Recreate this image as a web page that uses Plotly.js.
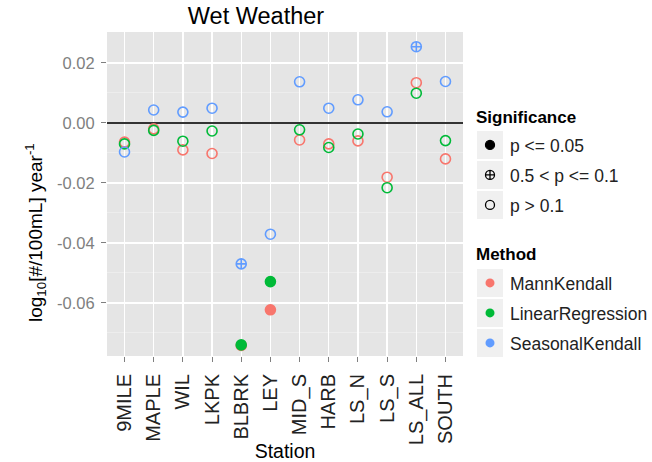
<!DOCTYPE html>
<html>
<head>
<meta charset="utf-8">
<script src="https://cdn.plot.ly/plotly-3.0.1.min.js"></script>
<style>html,body{margin:0;padding:0;background:#fff;}#chart{width:652px;height:462px;}</style>
</head>
<body>
<div id="chart"></div>
<script>
// ---- data ----
var stations = ["9MILE","MAPLE","WIL","LKPK","BLBRK","LEY","MID_S","HARB","LS_N","LS_S","LS_ALL","SOUTH"];
var mannKendall      = [-0.0064, -0.0020, -0.0090, -0.0102, -0.0742, -0.0623, -0.0057, -0.0070, -0.0060, -0.0181,  0.0134, -0.0120];
var linearRegression = [-0.0070, -0.0025, -0.0061, -0.0027, -0.0740, -0.0529, -0.0023, -0.0082, -0.0037, -0.0216,  0.0099, -0.0059];
var seasonalKendall  = [-0.0097,  0.0043,  0.0036,  0.0049, -0.0470, -0.0371,  0.0137,  0.0049,  0.0077,  0.0037,  0.0254,  0.0138];
var S1 = "p <= 0.05", S2 = "0.5 < p <= 0.1", S3 = "p > 0.1";
var sigMannKendall      = [S3,S3,S3,S3,S1,S1,S3,S3,S3,S3,S3,S3];
var sigLinearRegression = [S3,S3,S3,S3,S1,S1,S3,S3,S3,S3,S3,S3];
var sigSeasonalKendall  = [S3,S3,S3,S3,S2,S3,S3,S3,S3,S3,S2,S3];
var significanceLevels = [S1, S2, S3];
var methods = ["MannKendall","LinearRegression","SeasonalKendall"];
var yTickVals = [0.02, 0.00, -0.02, -0.04, -0.06];
var yTickText = ["0.02", "0.00", "-0.02", "-0.04", "-0.06"];
var yMinorVals = [0.03, 0.01, -0.01, -0.03, -0.05, -0.07];

// ---- styles ----
var methodColors = {MannKendall: "#F8766D", LinearRegression: "#00BA38", SeasonalKendall: "#619CFF"};
var sigSymbols = {};
sigSymbols[S1] = "circle";
sigSymbols[S2] = "circle-cross-open";
sigSymbols[S3] = "circle-open";

var series = [
  {name: methods[0], y: mannKendall, sig: sigMannKendall},
  {name: methods[1], y: linearRegression, sig: sigLinearRegression},
  {name: methods[2], y: seasonalKendall, sig: sigSeasonalKendall}
];

var traces = [];
series.forEach(function (s) {
  traces.push({
    type: "scatter", mode: "markers", x: stations, y: s.y, name: s.name,
    showlegend: false, hoverinfo: "x+y+name",
    marker: {size: 10, color: methodColors[s.name], symbol: s.sig.map(function (v) { return sigSymbols[v]; }),
             line: {width: 1.6, color: methodColors[s.name]}}
  });
});
// legend entries: significance
significanceLevels.forEach(function (lv, i) {
  traces.push({
    type: "scatter", mode: "markers", x: [null], y: [null], name: lv,
    legend: "legend", legendgroup: "sig" + i, showlegend: true,
    marker: {size: 9, color: "#000", symbol: sigSymbols[lv], line: {width: 1.3, color: "#000"}}
  });
});
// legend entries: method
methods.forEach(function (m, i) {
  traces.push({
    type: "scatter", mode: "markers", x: [null], y: [null], name: m,
    legend: "legend2", legendgroup: "m" + i, showlegend: true,
    marker: {size: 9, color: methodColors[m], symbol: "circle", line: {width: 0}}
  });
});

// geometry helpers (plot area in pixels: x 107..463, y 32..356)
function px2x(px) { return (px - 107) / 356; }
function px2y(py) { return (356 - py) / 324; }

// gray key backgrounds behind legend symbols
var keyCenters = [145, 175, 205, 283, 313, 343];
var shapes = keyCenters.map(function (c) {
  return {type: "rect", xref: "paper", yref: "paper", layer: "below",
          x0: px2x(477), x1: px2x(503), y0: px2y(c - 14), y1: px2y(c + 14),
          fillcolor: "#F0F0F0", line: {width: 0}};
});

var FONT = "Liberation Sans, Arial, sans-serif";
var layout = {
  width: 652, height: 462,
  margin: {l: 107, r: 189, t: 32, b: 106, pad: 0, autoexpand: false},
  paper_bgcolor: "#fff", plot_bgcolor: "#E5E5E5",
  font: {family: FONT, color: "#000"},
  title: {text: "Wet Weather", font: {size: 23.5, color: "#000", family: FONT},
          x: px2x(256), xref: "paper", xanchor: "center", y: 1 - 15.5 / 462, yref: "container", yanchor: "middle"},
  xaxis: {
    type: "category", categoryorder: "array", categoryarray: stations,
    range: [-0.6, stations.length - 0.4],
    showgrid: true, gridcolor: "#FFFFFF", gridwidth: 1.3,
    zeroline: false, showline: false,
    ticks: "outside", ticklen: 5, tickwidth: 1, tickcolor: "#7F7F7F",
    ticklabelstandoff: 4,
    tickangle: -90, tickfont: {size: 20, color: "#222", family: FONT},
    title: {text: "Station", font: {size: 19.5, color: "#000", family: FONT}, standoff: 0},
    automargin: false, fixedrange: true
  },
  yaxis: {
    range: [-0.0777, 0.0303],
    tickmode: "array", tickvals: yTickVals, ticktext: yTickText,
    showgrid: true, gridcolor: "#FFFFFF", gridwidth: 1.3,
    minor: {tickmode: "array", tickvals: yMinorVals, showgrid: true, gridcolor: "#F2F2F2", gridwidth: 0.6, ticks: ""},
    zeroline: true, zerolinecolor: "#333333", zerolinewidth: 1.6,
    showline: false,
    ticks: "outside", ticklen: 5, tickwidth: 1, tickcolor: "#7F7F7F",
    ticklabelstandoff: 3,
    tickfont: {size: 16.5, color: "#7F7F7F", family: FONT},
    automargin: false, fixedrange: true
  },
  annotations: [
    {text: "log<sub>10</sub>[#/100mL] year<sup>-1</sup>", textangle: -90, showarrow: false,
     xref: "paper", yref: "paper", x: px2x(35), y: px2y(233), xanchor: "center", yanchor: "middle",
     font: {size: 19, color: "#000", family: FONT}},
    {text: "<b>Significance</b>", showarrow: false, xref: "paper", yref: "paper",
     x: px2x(474), y: px2y(117), xanchor: "left", yanchor: "middle",
     font: {size: 17, color: "#000", family: FONT}},
    {text: "<b>Method</b>", showarrow: false, xref: "paper", yref: "paper",
     x: px2x(474), y: px2y(255), xanchor: "left", yanchor: "middle",
     font: {size: 17, color: "#000", family: FONT}}
  ],
  shapes: shapes,
  legend: {
    x: px2x(470), xanchor: "left", y: px2y(175), yanchor: "middle",
    font: {size: 17.5, color: "#222", family: FONT},
    tracegroupgap: 4.25, bgcolor: "rgba(0,0,0,0)", itemclick: false, itemdoubleclick: false
  },
  legend2: {
    x: px2x(470), xanchor: "left", y: px2y(313), yanchor: "middle",
    font: {size: 17.5, color: "#222", family: FONT},
    tracegroupgap: 4.25, bgcolor: "rgba(0,0,0,0)", itemclick: false, itemdoubleclick: false
  },
  showlegend: true
};

Plotly.newPlot("chart", traces, layout, {displayModeBar: false, staticPlot: true});
</script>
</body>
</html>
